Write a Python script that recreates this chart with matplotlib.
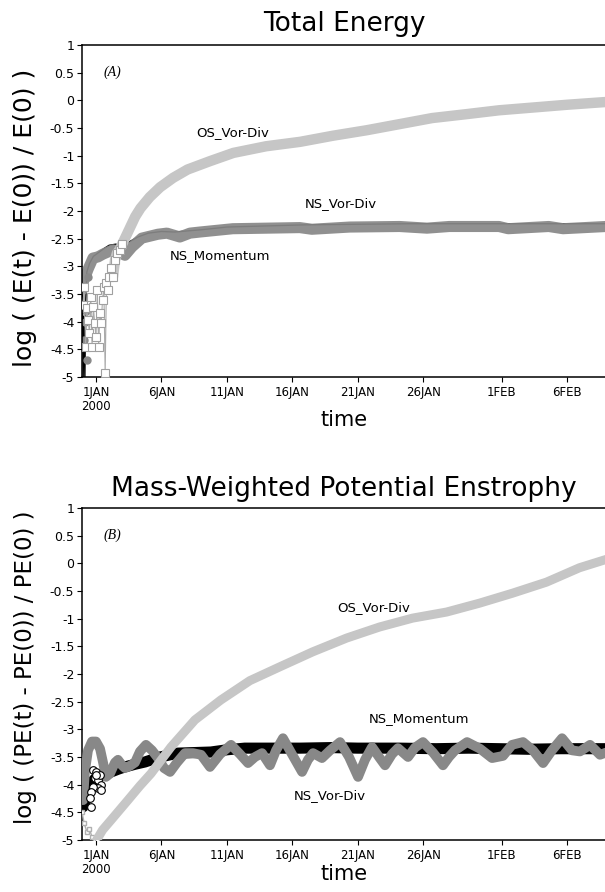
import numpy as np
import matplotlib
matplotlib.use("Agg")
import matplotlib.pyplot as plt

plt.rcParams['font.family'] = ['DejaVu Sans']

# ---------------- data (x in days after 1 JAN 2000) ----------------
xtick_days = [0, 5, 10, 15, 20, 25, 31, 36]
xtick_labels = ['1JAN\n2000', '6JAN', '11JAN', '16JAN', '21JAN', '26JAN', '1FEB', '6FEB']
ytick_vals = [1, 0.5, 0, -0.5, -1, -1.5, -2, -2.5, -3, -3.5, -4, -4.5, -5]
ytick_labels = ['1', '0.5', '0', '-0.5', '-1', '-1.5', '-2', '-2.5', '-3', '-3.5', '-4', '-4.5', '-5']

# Panel A: total energy
a_os_day = [-1.0, -0.9, -0.8, -0.7, -0.6, -0.5, -0.4, -0.3, -0.2, -0.1, 0.0, 0.1, 0.2, 0.3,
            0.4, 0.5, 0.6, 0.7, 0.8, 0.9, 1.0, 1.15, 1.3, 1.45, 1.6, 1.8, 2.0, 2.3, 2.6, 3.0,
            3.4, 4.1, 4.9, 5.9, 7.0, 8.7, 10.5, 13.0, 15.6, 18.1, 20.7, 23.2, 25.7, 28.3,
            30.8, 33.4, 36.0, 38.98]
a_os_val = [-3.7, -3.37, -4.45, -3.75, -3.97, -4.2, -3.55, -4.45, -3.73, -4.03, -4.27, -3.43,
            -4.45, -3.85, -4.03, -3.6, -3.37, -4.93, -3.3, -3.43, -3.19, -3.03, -3.19, -2.89,
            -2.76, -2.7, -2.6, -2.45, -2.3, -2.1, -1.95, -1.75, -1.57, -1.4, -1.25, -1.1,
            -0.95, -0.83, -0.75, -0.64, -0.54, -0.43, -0.32, -0.25, -0.18, -0.13, -0.08, -0.03]

a_mom_day = [-1.0, -0.6, -0.23, 0.15, 0.53, 0.92, 1.3, 1.68, 2.21, 2.75, 3.51, 4.73, 5.42,
             6.41, 7.18, 7.94, 10.46, 13.05, 15.57, 16.5, 19.39, 23.2, 25.3, 27.0, 30.8, 31.5,
             34.6, 35.7, 38.98]
a_mom_val = [-3.3, -3.05, -2.85, -2.83, -2.78, -2.74, -2.7, -2.74, -2.8, -2.65, -2.49, -2.42,
             -2.4, -2.47, -2.4, -2.38, -2.32, -2.31, -2.3, -2.33, -2.29, -2.28, -2.31, -2.28,
             -2.28, -2.32, -2.28, -2.32, -2.28]

a_vd_day = [-1.05, -0.98, -0.92, -0.85, -0.78, -0.7, -0.5, -0.2, 0.2, 0.6, 1.0, 1.5, 2.0,
            2.6, 3.2, 4.0, 5.0, 6.0, 7.0, 8.0, 10.0, 13.0, 16.0, 20.0, 24.0, 28.0, 32.0,
            36.0, 38.98]
a_vd_val = [-3.35, -5.0, -3.9, -5.0, -3.6, -3.1, -2.95, -2.82, -2.75, -2.68, -2.62, -2.6,
            -2.62, -2.55, -2.47, -2.4, -2.37, -2.38, -2.36, -2.34, -2.29, -2.27, -2.25,
            -2.24, -2.23, -2.23, -2.23, -2.23, -2.23]

a_dots_day = [-0.99, -0.84, -0.95, -0.69, -0.75, -0.61]
a_dots_val = [-3.43, -4.0, -4.33, -4.69, -3.8, -3.19]

# Panel B: mass-weighted potential enstrophy
b_os_day = [0.05, 0.5, 1.15, 2.44, 3.36, 4.2, 5.73, 7.56, 9.54, 11.76, 14.05, 16.56, 19.16,
            21.68, 24.2, 26.8, 29.31, 31.83, 34.43, 36.95, 38.98]
b_os_val = [-5.0, -4.82, -4.64, -4.28, -4.02, -3.8, -3.32, -2.83, -2.47, -2.12, -1.87, -1.6,
            -1.35, -1.15, -0.99, -0.88, -0.72, -0.54, -0.34, -0.08, 0.07]
b_os_early_day = [-1.07, -0.9, -0.7, -0.5, -0.3, -0.1, 0.05]
b_os_early_val = [-4.5, -4.7, -4.85, -4.8, -4.95, -5.0, -5.0]

b_mom_day = [-0.99, -0.7, -0.46, -0.1, 0.31, 0.7, 1.15, 1.7, 2.2, 3.0, 3.74, 4.9, 6.26, 7.5,
             8.78, 10.0, 11.37, 13.0, 15.6, 18.0, 20.0, 23.2, 26.0, 28.5, 30.8, 33.0, 35.5,
             38.98]
b_mom_val = [-4.4, -4.2, -4.0, -3.9, -3.85, -3.8, -3.77, -3.72, -3.68, -3.63, -3.59, -3.5,
             -3.43, -3.42, -3.41, -3.37, -3.34, -3.34, -3.34, -3.33, -3.34, -3.34, -3.35,
             -3.34, -3.35, -3.36, -3.35, -3.35]
b_circ_day = [-0.23, 0.0, -0.08, 0.15, 0.31, 0.38, 0.15, -0.23, -0.38, -0.46, -0.38, 0.38, 0.0]
b_circ_val = [-3.73, -3.77, -3.88, -3.92, -3.83, -4.0, -4.06, -4.04, -4.13, -4.24, -4.4, -4.1, -3.83]

b_vd_day = [-0.99, -0.84, -0.61, -0.31, 0.0, 0.31, 0.54, 0.76, 1.07, 1.45, 1.68, 1.99, 2.22,
            2.6, 2.98, 3.36, 3.82, 4.28, 4.74, 5.2, 5.66, 6.19, 6.8, 7.41, 8.03, 8.71, 9.48,
            10.32, 11.01, 11.62, 12.15, 12.69, 13.3, 13.76, 14.29, 14.98, 15.75, 16.2, 16.59,
            17.27, 17.89, 18.65, 19.34, 20.03, 20.56, 21.1, 21.63, 22.09, 22.62, 23.08,
            23.85, 24.38, 24.99, 25.76, 26.52, 26.98, 27.44, 28.36, 29.35, 30.27, 31.11,
            31.8, 32.64, 33.4, 34.17, 34.85, 35.62, 36.38, 36.99, 37.76, 38.52, 38.98]
b_vd_val = [-4.28, -3.75, -3.38, -3.22, -3.22, -3.35, -3.6, -3.86, -3.8, -3.6, -3.55, -3.65,
            -3.7, -3.66, -3.6, -3.4, -3.28, -3.38, -3.52, -3.7, -3.77, -3.6, -3.43, -3.43,
            -3.46, -3.68, -3.45, -3.28, -3.45, -3.61, -3.5, -3.43, -3.65, -3.38, -3.16,
            -3.45, -3.77, -3.55, -3.43, -3.52, -3.38, -3.23, -3.5, -3.86, -3.55, -3.32,
            -3.5, -3.65, -3.45, -3.34, -3.5, -3.33, -3.23, -3.42, -3.65, -3.5, -3.38, -3.23,
            -3.35, -3.52, -3.48, -3.28, -3.23, -3.38, -3.61, -3.38, -3.16, -3.38, -3.4,
            -3.28, -3.46, -3.42]

# ---------------- styling ----------------
LIGHT = '#c6c6c6'
DARK = '#888888'
W, H = 605, 892

def rect(l, t, r, b):
    return [l / W, 1 - b / H, (r - l) / W, (b - t) / H]

fig = plt.figure(figsize=(W / 100, H / 100), dpi=100)
ax1 = fig.add_axes(rect(82, 45, 606, 377))
ax2 = fig.add_axes(rect(82, 508, 606, 840))

def style(ax, title, ylabel, ylab_fs, title_pad, xlab_y, ylab_pos, panel):
    ax.set_xlim(-1.07, 38.98)
    ax.set_ylim(-5, 1)
    ax.set_xticks(xtick_days)
    ax.set_xticklabels(xtick_labels, fontsize=8.5, linespacing=1.1)
    ax.set_yticks(ytick_vals)
    ax.set_yticklabels(ytick_labels, fontsize=9)
    ax.tick_params(direction='out', length=3.5, width=0.8, pad=2)
    ax.tick_params(axis='x', pad=3)
    for s in ax.spines.values():
        s.set_linewidth(1.1)
    ax.set_title(title, fontsize=19, pad=title_pad)
    ax.set_xlabel('time', fontsize=15)
    ax.xaxis.set_label_coords(0.5, xlab_y)
    ax.text(ylab_pos[0], ylab_pos[1], ylabel, transform=ax.transAxes, rotation=90,
            ha='center', va='center', fontsize=ylab_fs)
    ax.text(1.22, 0.51, panel, fontsize=10, style='italic',
            family=['Liberation Serif', 'DejaVu Serif'], ha='center', va='center')

# ----- Panel A -----
ax1.plot(a_vd_day, a_vd_val, color='black', lw=1.0, zorder=2)
ax1.plot(a_mom_day, a_mom_val, color=DARK, lw=8, solid_capstyle='round',
         solid_joinstyle='round', zorder=2.5, alpha=0.93)
ax1.plot(a_dots_day, a_dots_val, 'o', color=DARK, ms=5, zorder=2)
ad = np.array(a_os_day)
av = np.array(a_os_val)
ax1.plot(ad, av, color='#aaaaaa', lw=0.8, zorder=4)
m = ad >= 1.3
ax1.plot(ad[m], av[m], color=LIGHT, lw=7.5, solid_capstyle='round',
         solid_joinstyle='round', zorder=4)
e = ad < 2.2
ax1.plot(ad[e], av[e], 's', ms=5.5, mfc='white', mec='#a0a0a0', mew=0.8, zorder=5)
ax1.text(10.46, -0.59, 'OS_Vor-Div', fontsize=9.5, ha='center', va='center')
ax1.text(18.7, -1.86, 'NS_Vor-Div', fontsize=9.5, ha='center', va='center')
ax1.text(9.47, -2.81, 'NS_Momentum', fontsize=9.5, ha='center', va='center')
style(ax1, 'Total Energy', 'log ( (E(t) - E(0)) / E(0) )', 18, 10, -0.10,
      (-0.109, 0.479), '(A)')

# ----- Panel B -----
ax2.plot(b_mom_day, b_mom_val, color='black', lw=8, solid_capstyle='round',
         solid_joinstyle='round', zorder=2)
ax2.plot(b_vd_day, b_vd_val, color=DARK, lw=7, solid_capstyle='round',
         solid_joinstyle='round', zorder=3)
ax2.plot(b_os_early_day, b_os_early_val, color='#b0b0b0', lw=1, marker='s', ms=3,
         mfc='white', mec='#b0b0b0', zorder=4)
ax2.plot(b_os_day, b_os_val, color=LIGHT, lw=6.5, solid_capstyle='round',
         solid_joinstyle='round', zorder=4)
ax2.plot(b_circ_day, b_circ_val, 'o', ms=5.5, mfc='white', mec='black', mew=0.8, zorder=5)
ax2.text(21.2, -0.79, 'OS_Vor-Div', fontsize=9.5, ha='center', va='center')
ax2.text(24.7, -2.8, 'NS_Momentum', fontsize=9.5, ha='center', va='center')
ax2.text(17.86, -4.19, 'NS_Vor-Div', fontsize=9.5, ha='center', va='center')
style(ax2, 'Mass-Weighted Potential Enstrophy', 'log ( (PE(t) - PE(0)) / PE(0) )', 16.5, 9,
      -0.072, (-0.107, 0.521), '(B)')

fig.savefig('out.png', dpi=100)
